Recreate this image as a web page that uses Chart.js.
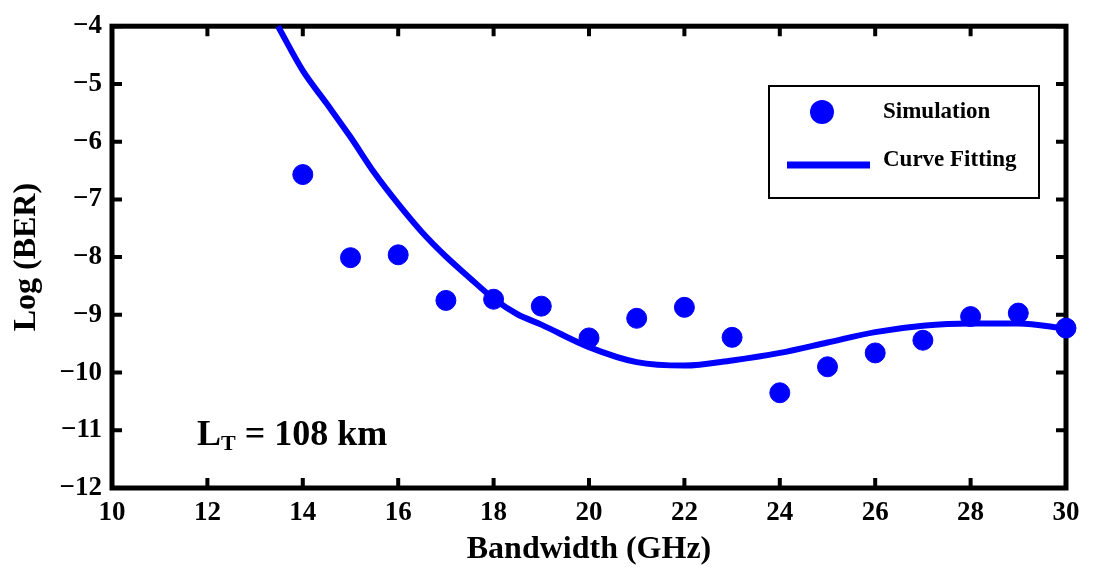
<!DOCTYPE html>
<html lang="en">
<head>
<meta charset="UTF-8">
<script src="https://cdn.jsdelivr.net/npm/chart.js"></script>
<title>BER x Bandwidth</title>
<style>
  body { margin: 0; background: #fff; }
  .grafico { position: relative; width: 1093px; height: 570px; }
</style>
</head>
<body>
<div class="grafico"><canvas id="graficoBer"></canvas></div>
<script>
// pontos da simulacao
const largurasSimulacao = [14, 15, 16, 17, 18, 19, 20, 21, 22, 23, 24, 25, 26, 27, 28, 29, 30];
const berSimulacao = [-6.57, -8.01, -7.96, -8.75, -8.73, -8.85, -9.40, -9.06, -8.87, -9.39, -10.35, -9.90, -9.66, -9.44, -9.03, -8.97, -9.23];

// curva ajustada
const largurasCurva = [13.48, 14, 14.5, 15, 15.5, 16, 16.5, 17, 17.5, 18, 18.5, 19, 20, 21, 22, 23, 24, 25, 26, 27, 28, 29, 30];
const berCurva = [-4.0, -4.77, -5.34, -5.92, -6.54, -7.08, -7.57, -7.99, -8.36, -8.72, -8.99, -9.17, -9.56, -9.82, -9.88, -9.79, -9.66, -9.48, -9.30, -9.19, -9.15, -9.15, -9.24];

const ticksX = [10, 12, 14, 16, 18, 20, 22, 24, 26, 28, 30];
const ticksY = [-12, -11, -10, -9, -8, -7, -6, -5, -4];

const AZUL = '#0000ff';
const FONTE = '"Liberation Serif", "Times New Roman", serif';

// moldura preta com os ticks para dentro
const moldura = {
    id: 'moldura',
    beforeDatasetsDraw(chart) {
        const { ctx, chartArea: a, scales: { x, y } } = chart;
        ctx.save();
        ctx.strokeStyle = '#000';
        ctx.lineWidth = 4;
        ctx.beginPath();
        ticksX.forEach(function (v) {
            const px = x.getPixelForValue(v);
            ctx.moveTo(px, a.bottom); ctx.lineTo(px, a.bottom - 10);
            ctx.moveTo(px, a.top); ctx.lineTo(px, a.top + 10);
        });
        ticksY.forEach(function (v) {
            const py = y.getPixelForValue(v);
            ctx.moveTo(a.left, py); ctx.lineTo(a.left + 10, py);
            ctx.moveTo(a.right, py); ctx.lineTo(a.right - 10, py);
        });
        ctx.stroke();
        ctx.lineWidth = 5;
        ctx.strokeRect(a.left, a.top, a.right - a.left, a.bottom - a.top);
        ctx.restore();
    }
};

// legenda e texto L_T
const extras = {
    id: 'extras',
    afterDraw(chart) {
        const ctx = chart.ctx;
        ctx.save();

        ctx.fillStyle = '#fff';
        ctx.fillRect(769, 86, 270, 112);
        ctx.strokeStyle = '#000';
        ctx.lineWidth = 2;
        ctx.strokeRect(769, 86, 270, 112);

        ctx.fillStyle = AZUL;
        ctx.beginPath();
        ctx.arc(822, 112, 12, 0, Math.PI * 2);
        ctx.fill();

        ctx.strokeStyle = AZUL;
        ctx.lineWidth = 7;
        ctx.beginPath();
        ctx.moveTo(787, 165);
        ctx.lineTo(870, 165);
        ctx.stroke();

        ctx.fillStyle = '#000';
        ctx.font = 'bold 23px ' + FONTE;
        ctx.textBaseline = 'middle';
        ctx.fillText('Simulation', 883, 112);
        ctx.fillText('Curve Fitting', 883, 160);

        ctx.textBaseline = 'alphabetic';
        let xTexto = 197;
        ctx.font = 'bold 36px ' + FONTE;
        ctx.fillText('L', xTexto, 445);
        xTexto += ctx.measureText('L').width;
        ctx.font = 'bold 22px ' + FONTE;
        ctx.fillText('T', xTexto, 450);
        xTexto += ctx.measureText('T').width;
        ctx.font = 'bold 36px ' + FONTE;
        ctx.fillText(' = 108 km', xTexto, 445);

        ctx.restore();
    }
};

const config = {
    data: {
        datasets: [
            {
                type: 'scatter',
                label: 'Simulation',
                data: largurasSimulacao.map((v, i) => ({ x: v, y: berSimulacao[i] })),
                backgroundColor: AZUL,
                borderColor: AZUL,
                pointRadius: 10,
                pointHoverRadius: 10,
                clip: false,
                order: 1
            },
            {
                type: 'line',
                label: 'Curve Fitting',
                data: largurasCurva.map((v, i) => ({ x: v, y: berCurva[i] })),
                borderColor: AZUL,
                borderWidth: 6,
                pointRadius: 0,
                fill: false,
                cubicInterpolationMode: 'monotone',
                clip: false,
                order: 2
            }
        ]
    },
    options: {
        responsive: true,
        maintainAspectRatio: false,
        animation: false,
        layout: { padding: { left: 0, top: 22, right: 27, bottom: 0 } },
        plugins: { legend: { display: false }, tooltip: { enabled: false } },
        scales: {
            x: {
                type: 'linear',
                min: 10,
                max: 30,
                afterBuildTicks: s => { s.ticks = ticksX.map(v => ({ value: v })); },
                afterFit: s => { s.height = 82; },
                grid: { display: false, drawTicks: false },
                border: { display: false },
                ticks: {
                    padding: 9,
                    color: '#000',
                    font: { family: FONTE, size: 27, weight: 'bold' }
                },
                title: {
                    display: true,
                    text: 'Bandwidth (GHz)',
                    color: '#000',
                    padding: { top: 0, bottom: 1 },
                    font: { family: FONTE, size: 32, weight: 'bold' }
                }
            },
            y: {
                type: 'linear',
                min: -12,
                max: -4,
                afterBuildTicks: s => { s.ticks = ticksY.map(v => ({ value: v })); },
                afterFit: s => { s.width = 112; },
                grid: { display: false, drawTicks: false },
                border: { display: false },
                ticks: {
                    padding: 10,
                    color: '#000',
                    font: { family: FONTE, size: 27, weight: 'bold' },
                    callback: v => String(v).replace('-', '\u2212')
                },
                title: {
                    display: true,
                    text: 'Log (BER)',
                    color: '#000',
                    padding: { top: 8, bottom: 0 },
                    font: { family: FONTE, size: 32, weight: 'bold' }
                }
            }
        }
    },
    plugins: [moldura, extras]
};

new Chart(document.getElementById('graficoBer'), config);
</script>
</body>
</html>
